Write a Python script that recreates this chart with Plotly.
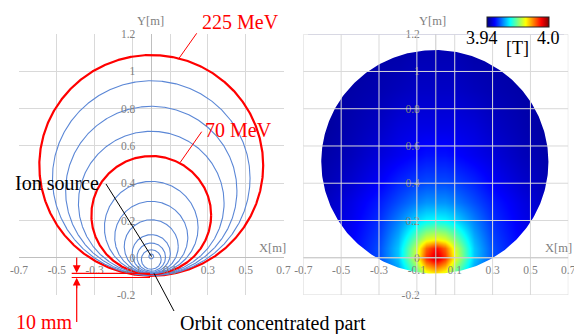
import numpy as np
import plotly.graph_objects as go

W, H = 574, 334
SERIF = "Liberation Serif"

# ---------------- data ----------------
# Orbits (left panel): top and bottom Y [m] of each closed orbit, centred on X = 0
ORBIT_TOP = [1.088, 0.950, 0.813, 0.679, 0.546, 0.410, 0.303, 0.204, 0.124, 0.079, 0.043, 0.020]
ORBIT_BOTTOM = [-0.097, -0.096, -0.094, -0.092, -0.088, -0.086, -0.084, -0.082, -0.078, -0.072, -0.062, -0.006]
ORBIT_ENERGY = ["225 MeV", "", "", "", "70 MeV", "", "", "", "", "", "", ""]

X_TICKS = [-0.7, -0.5, -0.3, -0.1, 0.1, 0.3, 0.5, 0.7]
X_TICK_TEXT = ["-0.7", "-0.5", "-0.3", "-0.1", "0.1", "0.3", "0.5", "0.7"]
Y_TICKS = [-0.2, 0.0, 0.2, 0.4, 0.6, 0.8, 1.0, 1.2]
Y_TICK_TEXT = ["-0.2", "0", "0.2", "0.4", "0.6", "0.8", "1", "1.2"]

# Field map (right panel): B [T] sampled on a coarse grid
FIELD_X = [-0.6, -0.45, -0.3, -0.2, -0.1, -0.05, 0.0, 0.05, 0.1, 0.2, 0.3, 0.45, 0.6]
FIELD_Y = [-0.12, -0.05, 0.0, 0.05, 0.1, 0.2, 0.3, 0.4, 0.55, 0.7, 0.9, 1.12]
FIELD_B = [
    [3.9448, 3.9460, 3.9490, 3.9544, 3.9640, 3.9690, 3.9705, 3.9690, 3.9640, 3.9544, 3.9490, 3.9460, 3.9448],
    [3.9448, 3.9466, 3.9508, 3.9574, 3.9712, 3.9814, 3.9856, 3.9814, 3.9712, 3.9574, 3.9508, 3.9466, 3.9448],
    [3.9448, 3.9472, 3.9520, 3.9592, 3.9760, 3.9898, 3.9964, 3.9898, 3.9760, 3.9592, 3.9520, 3.9472, 3.9448],
    [3.9448, 3.9472, 3.9520, 3.9592, 3.9748, 3.9868, 3.9922, 3.9868, 3.9748, 3.9592, 3.9520, 3.9472, 3.9448],
    [3.9448, 3.9472, 3.9514, 3.9580, 3.9700, 3.9754, 3.9772, 3.9754, 3.9700, 3.9580, 3.9514, 3.9472, 3.9448],
    [3.9442, 3.9466, 3.9502, 3.9550, 3.9604, 3.9622, 3.9628, 3.9622, 3.9604, 3.9550, 3.9502, 3.9466, 3.9442],
    [3.9436, 3.9460, 3.9490, 3.9520, 3.9550, 3.9562, 3.9562, 3.9562, 3.9550, 3.9520, 3.9490, 3.9460, 3.9436],
    [3.9430, 3.9448, 3.9472, 3.9496, 3.9514, 3.9520, 3.9520, 3.9520, 3.9514, 3.9496, 3.9472, 3.9448, 3.9430],
    [3.9424, 3.9436, 3.9454, 3.9466, 3.9478, 3.9484, 3.9484, 3.9484, 3.9478, 3.9466, 3.9454, 3.9436, 3.9424],
    [3.9418, 3.9430, 3.9442, 3.9454, 3.9460, 3.9460, 3.9460, 3.9460, 3.9460, 3.9454, 3.9442, 3.9430, 3.9418],
    [3.9418, 3.9424, 3.9430, 3.9436, 3.9442, 3.9442, 3.9442, 3.9442, 3.9442, 3.9436, 3.9430, 3.9424, 3.9418],
    [3.9412, 3.9418, 3.9424, 3.9424, 3.9430, 3.9430, 3.9430, 3.9430, 3.9430, 3.9424, 3.9424, 3.9418, 3.9412],
]
B_MIN, B_MAX = 3.94, 4.0
CBAR_TEXT = ["3.94", "4.0"]
CBAR_UNIT = "[T]"
DISC_CX, DISC_CY, DISC_R = -0.005, 0.515, 0.600

X_RANGE = [-0.7, 0.7]
Y_RANGE = [-0.2, 1.2]

# ---------------- layout geometry (pixels) ----------------
L1, R1 = 19.0, 283.5
L2, R2 = 303.3, 568.3
TOP, BOT = 34.2, 295.0
CB_L, CB_R, CB_T = 487.0, 549.0, 16.5


def px(x):
    return x / W


def py(y):
    return 1 - y / H


ydom = [py(BOT), py(TOP)]
y0_paper = ydom[0] + (0 - Y_RANGE[0]) / (Y_RANGE[1] - Y_RANGE[0]) * (ydom[1] - ydom[0])


def x0_paper(l, r):
    return px(l) + (0 - X_RANGE[0]) / (X_RANGE[1] - X_RANGE[0]) * (px(r) - px(l))


fig = go.Figure()

# ---- left panel: orbits ----
theta = np.linspace(0, 2 * np.pi, 721)
for top, bot, lab in zip(ORBIT_TOP, ORBIT_BOTTOM, ORBIT_ENERGY):
    r = (top - bot) / 2
    yc = (top + bot) / 2
    red = lab != ""
    fig.add_trace(go.Scatter(
        x=r * np.cos(theta), y=yc + r * np.sin(theta), mode="lines",
        line=dict(color="#FF0000" if red else "#5B87D6", width=2.2 if red else 1.1),
        xaxis="x", yaxis="y", hoverinfo="skip", showlegend=False))

# ---- right panel: field map ----
colorscale = [[0.0, "#00007F"], [0.125, "#0000FF"], [0.375, "#00FFFF"],
              [0.625, "#FFFF00"], [0.875, "#FF0000"], [1.0, "#7F0000"]]
fig.add_trace(go.Heatmap(
    x=FIELD_X, y=FIELD_Y, z=FIELD_B, zmin=B_MIN, zmax=B_MAX, zsmooth="best",
    colorscale=colorscale, xaxis="x2", yaxis="y2", hoverinfo="skip",
    colorbar=dict(orientation="h", x=px((CB_L + CB_R) / 2), xanchor="center",
                  y=py(CB_T), yanchor="top", len=CB_R - CB_L, lenmode="pixels",
                  thickness=10, thicknessmode="pixels", xpad=0, ypad=0,
                  outlinewidth=1, outlinecolor="#222222",
                  showticklabels=False, ticks="")))

# white mask outside the field disc (rectangle with a circular hole)
phi = np.linspace(0, 2 * np.pi, 361)
mx = [-0.8, -0.8, 0.8, 0.8, -0.8, None] + list(DISC_CX + DISC_R * np.cos(phi))
my = [-0.3, 1.3, 1.3, -0.3, -0.3, None] + list(DISC_CY + DISC_R * np.sin(phi))
fig.add_trace(go.Scatter(x=mx, y=my, mode="lines", fill="toself", fillcolor="white",
                         line=dict(width=0), xaxis="x2", yaxis="y2",
                         hoverinfo="skip", showlegend=False))

tickfont = dict(family=SERIF, size=11.5, color="#808080")
grid = "#D9D9D9"


def xaxis(l, r):
    return dict(domain=[px(l), px(r)], range=X_RANGE, tickvals=X_TICKS, ticktext=X_TICK_TEXT,
                showgrid=True, gridcolor=grid, gridwidth=1, zeroline=True, zerolinecolor="#BFBFBF",
                zerolinewidth=1, showline=False, ticks="", anchor="free", position=y0_paper,
                tickfont=tickfont, ticklabelstandoff=4, ticklabeloverflow="allow", fixedrange=True)


def yaxis(l, r):
    return dict(domain=ydom, range=Y_RANGE, tickvals=Y_TICKS, ticktext=Y_TICK_TEXT,
                showgrid=True, gridcolor=grid, gridwidth=1, zeroline=True, zerolinecolor="#BFBFBF",
                zerolinewidth=1, showline=False, ticks="", anchor="free", position=x0_paper(l, r),
                tickfont=tickfont, ticklabelstandoff=16, ticklabeloverflow="allow", fixedrange=True)


shapes = []
# grid drawn over the field map
for xv in X_TICKS:
    shapes.append(dict(type="line", xref="x2", yref="y2", x0=xv, x1=xv, y0=Y_RANGE[0], y1=Y_RANGE[1],
                       line=dict(color=grid, width=1), layer="above"))
for yv in Y_TICKS:
    shapes.append(dict(type="line", xref="x2", yref="y2", x0=X_RANGE[0], x1=X_RANGE[1], y0=yv, y1=yv,
                       line=dict(color=grid, width=1), layer="above"))
shapes.append(dict(type="line", xref="x2", yref="y2", x0=0, x1=0, y0=Y_RANGE[0], y1=Y_RANGE[1],
                   line=dict(color="#C8C8C8", width=1), layer="above"))
shapes.append(dict(type="line", xref="x2", yref="y2", x0=X_RANGE[0], x1=X_RANGE[1], y0=0, y1=0,
                   line=dict(color="#C8C8C8", width=1), layer="above"))


def pline(x0, y0, x1, y1, color, width=1.0):
    shapes.append(dict(type="line", xref="paper", yref="paper", x0=px(x0), y0=py(y0),
                       x1=px(x1), y1=py(y1), line=dict(color=color, width=width), layer="above"))


pline(196.7, 33.3, 178.3, 59.3, "#FF0000")
pline(201.7, 131.7, 180.0, 162.7, "#FF0000")
pline(106.0, 184.0, 151.5, 256.5, "black")
pline(154.0, 273.3, 174.0, 311.0, "black")
pline(71.7, 273.3, 150.0, 273.3, "#FF0000", 1.2)
pline(71.7, 277.5, 150.0, 277.5, "#FF0000", 1.2)
pline(76.7, 285.0, 76.7, 322.0, "#FF0000", 1.2)

annotations = []


def text(t, x, y, size, color, xanchor="center"):
    annotations.append(dict(text=t, x=px(x), y=py(y), xref="paper", yref="paper", showarrow=False,
                            xanchor=xanchor, yanchor="middle",
                            font=dict(family=SERIF, size=size, color=color)))


text("225 MeV", 240.0, 22.0, 20, "#FF0000")
text("70 MeV", 238.5, 129.5, 20, "#FF0000")
text("Ion source", 56.5, 183.0, 20, "black")
text("Orbit concentrated part", 272.5, 323.0, 20, "black")
text("10 mm", 44.5, 322.0, 20, "#FF0000")
text(CBAR_TEXT[0], 481.5, 37.5, 18, "black")
text(CBAR_TEXT[1], 548.5, 37.5, 18, "black")
text(CBAR_UNIT, 517.5, 48.0, 18, "black")
text("Y[m]", 150.0, 21.0, 12.5, "#808080")
text("X[m]", 272.5, 248.0, 12.5, "#808080")
text("Y[m]", 432.5, 21.0, 12.5, "#808080")
text("X[m]", 558.0, 248.0, 12.5, "#808080")

# 10 mm arrows
for yhead, ay in ((273.0, -17), (277.8, 12)):
    annotations.append(dict(text="", x=px(76.7), y=py(yhead), xref="paper", yref="paper",
                            showarrow=True, ax=0, ay=ay, arrowhead=2, arrowsize=1.3,
                            arrowwidth=1.2, arrowcolor="#FF0000", standoff=0))

fig.update_layout(
    width=W, height=H, margin=dict(l=0, r=0, t=0, b=0, pad=0, autoexpand=False),
    paper_bgcolor="white", plot_bgcolor="white", font=dict(family=SERIF),
    xaxis=xaxis(L1, R1), yaxis=yaxis(L1, R1),
    xaxis2=xaxis(L2, R2), yaxis2=yaxis(L2, R2),
    shapes=shapes, annotations=annotations, showlegend=False,
)
fig.write_html("out.html", config={"displayModeBar": False},
               post_script="document.body.style.margin='0';document.body.style.padding='0';"
                           "document.body.style.overflow='hidden';")
